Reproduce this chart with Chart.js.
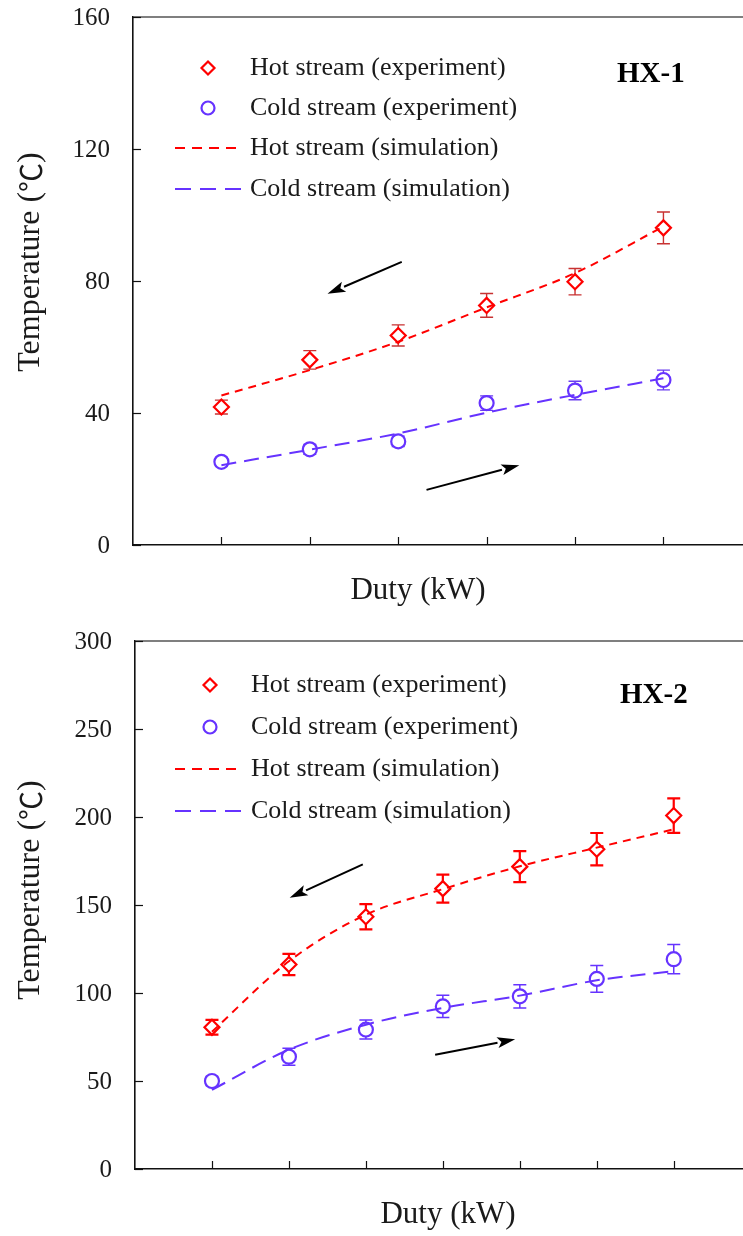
<!DOCTYPE html>
<html><head><meta charset="utf-8">
<script src="https://cdn.jsdelivr.net/npm/chart.js@4.4.1/dist/chart.umd.min.js"></script>
<style>
html,body{margin:0;padding:0;background:#fff;}
#wrap{position:relative;width:743px;height:1236px;overflow:hidden;}
.box{position:absolute;left:0;width:743px;height:618px;}
</style></head><body>
<div id="wrap">
<div class="box" style="top:0"><canvas id="c1" width="743" height="618"></canvas></div>
<div class="box" style="top:618px"><canvas id="c2" width="743" height="618"></canvas></div>
</div>
<script>
// ---------- HX-1 data ----------
const hx1Duty      = [1, 2, 3, 4, 5, 6];
const hx1HotExp    = [41.8, 56.1, 63.5, 72.6, 79.8, 96.1];
const hx1HotErr    = [2.1, 2.8, 3.2, 3.6, 4.0, 4.8];
const hx1ColdExp   = [25.2, 29.0, 31.4, 43.0, 46.8, 50.0];
const hx1ColdErr   = [1.3, 1.5, 1.6, 2.2, 2.8, 3.0];
const hx1HotSim    = [45.3, 53.0, 61.6, 72.0, 82.4, 96.5];
const hx1ColdSim   = [24.2, 28.9, 33.8, 40.1, 45.5, 50.5];
const hx1YTicks    = [0, 40, 80, 120, 160];
const hx1HotArrow  = [[3.04, 85.8], [2.2, 76.1]];
const hx1ColdArrow = [[3.32, 16.7], [4.37, 24.2]];

// ---------- HX-2 data ----------
const hx2Duty      = [1, 2, 3, 4, 5, 6, 7];
const hx2HotExp    = [80.5, 116.2, 143.3, 159.3, 171.8, 181.7, 200.8];
const hx2HotErr    = [4.2, 6.0, 7.2, 8.0, 8.8, 9.2, 9.8];
const hx2ColdExp   = [50.0, 63.8, 79.2, 92.4, 98.1, 108.0, 119.2];
const hx2ColdErr   = [2.5, 4.8, 5.4, 6.3, 6.6, 7.6, 8.3];
const hx2HotSim    = [78.0, 118.0, 144.5, 159.0, 172.0, 182.6, 193.0];
const hx2ColdSim   = [45.0, 67.8, 82.0, 91.5, 98.5, 107.2, 112.4];
const hx2YTicks    = [0, 50, 100, 150, 200, 250, 300];
const hx2HotArrow  = [[2.96, 173.1], [2.01, 154.1]];
const hx2ColdArrow = [[3.9, 64.9], [4.94, 73.7]];

const legendLabels = ['Hot stream (experiment)', 'Cold stream (experiment)', 'Hot stream (simulation)', 'Cold stream (simulation)'];

const RED = '#ff0000';
const PURPLE = '#6633ff';
const SERIF = "'Liberation Serif', 'Times New Roman', serif";
const CJK = "'Noto Sans CJK SC', sans-serif";
const TXT = '#1a1a1a';

function pts(xs, ys) { return xs.map((x, i) => ({x: x, y: ys[i]})); }

function drawArrow(ctx, x1, y1, x2, y2) {
  const ang = Math.atan2(y2 - y1, x2 - x1);
  const hl = 18, hw = 5.5;
  const bx = x2 - hl * Math.cos(ang), by = y2 - hl * Math.sin(ang);
  ctx.save();
  ctx.strokeStyle = '#000'; ctx.fillStyle = '#000'; ctx.lineWidth = 2;
  ctx.beginPath(); ctx.moveTo(x1, y1); ctx.lineTo(bx, by); ctx.stroke();
  ctx.beginPath();
  ctx.moveTo(x2, y2);
  ctx.lineTo(bx + hw * Math.sin(ang), by - hw * Math.cos(ang));
  ctx.lineTo(bx + 4 * Math.cos(ang), by + 4 * Math.sin(ang));
  ctx.lineTo(bx - hw * Math.sin(ang), by + hw * Math.cos(ang));
  ctx.closePath(); ctx.fill();
  ctx.restore();
}

function drawYTitle(ctx, cx, cy) {
  const p1 = 'Temperature (', p2 = '\u2103', p3 = ')';
  const fs = 32;
  ctx.save();
  ctx.translate(cx, cy);
  ctx.rotate(-Math.PI / 2);
  ctx.textBaseline = 'middle'; ctx.textAlign = 'left'; ctx.fillStyle = TXT;
  ctx.font = fs + 'px ' + SERIF; const w1 = ctx.measureText(p1).width; const w3 = ctx.measureText(p3).width;
  ctx.font = (fs - 3) + 'px ' + CJK; const w2 = ctx.measureText(p2).width;
  const total = w1 + w2 + w3;
  let xx = -total / 2;
  ctx.font = fs + 'px ' + SERIF; ctx.fillText(p1, xx, 0); xx += w1;
  ctx.font = (fs - 3) + 'px ' + CJK; ctx.fillText(p2, xx, 0); xx += w2;
  ctx.font = fs + 'px ' + SERIF; ctx.fillText(p3, xx, 0);
  ctx.restore();
}

function makeChart(id, o) {
  const annot = {
    id: 'annot',
    beforeDatasetsDraw(chart) {
      const ctx = chart.ctx, x = chart.scales.x, y = chart.scales.y;
      o.errors.forEach(e => {
        ctx.save();
        ctx.strokeStyle = e.color; ctx.lineWidth = e.width;
        o.duty.forEach((xv, i) => {
          const px = x.getPixelForValue(xv);
          const t = y.getPixelForValue(e.ys[i] + e.err[i]);
          const b = y.getPixelForValue(e.ys[i] - e.err[i]);
          const cap = 6.5;
          ctx.beginPath();
          ctx.moveTo(px, t); ctx.lineTo(px, b);
          ctx.moveTo(px - cap, t); ctx.lineTo(px + cap, t);
          ctx.moveTo(px - cap, b); ctx.lineTo(px + cap, b);
          ctx.stroke();
        });
        ctx.restore();
      });
    },
    afterDraw(chart) {
      const ctx = chart.ctx, x = chart.scales.x, y = chart.scales.y, a = chart.chartArea;
      ctx.save();
      // top border
      ctx.strokeStyle = '#555'; ctx.lineWidth = 1.5;
      ctx.beginPath(); ctx.moveTo(a.left, a.top); ctx.lineTo(a.right, a.top); ctx.stroke();
      // inner tick marks
      ctx.strokeStyle = '#111'; ctx.lineWidth = 1.2;
      for (let v = 1; v <= Math.floor(o.xMax); v++) {
        const px = Math.round(x.getPixelForValue(v)) + 0.5;
        ctx.beginPath(); ctx.moveTo(px, a.bottom); ctx.lineTo(px, a.bottom - 8); ctx.stroke();
      }
      ctx.fillStyle = TXT; ctx.font = '25px ' + SERIF; ctx.textAlign = 'right'; ctx.textBaseline = 'middle';
      o.yTicks.forEach(v => {
        const py = Math.round(y.getPixelForValue(v)) + 0.5;
        ctx.beginPath(); ctx.moveTo(a.left, py); ctx.lineTo(a.left + 8, py); ctx.stroke();
        ctx.fillText(String(v), a.left - 23, py + 1);
      });
      // arrows
      [o.hotArrow, o.coldArrow].forEach(ar => {
        drawArrow(ctx, x.getPixelForValue(ar[0][0]), y.getPixelForValue(ar[0][1]),
                       x.getPixelForValue(ar[1][0]), y.getPixelForValue(ar[1][1]));
      });
      // legend
      const L = o.legend;
      ctx.fillStyle = TXT; ctx.font = '26px ' + SERIF; ctx.textBaseline = 'middle'; ctx.textAlign = 'left';
      legendLabels.forEach((t, i) => ctx.fillText(t, L.textX, a.top + L.rows[i]));
      ctx.lineWidth = 2.2;
      let ry = a.top + L.rows[0];
      ctx.strokeStyle = RED; ctx.fillStyle = '#fff';
      ctx.beginPath(); ctx.moveTo(L.markX, ry - 6.5); ctx.lineTo(L.markX + 6.5, ry); ctx.lineTo(L.markX, ry + 6.5); ctx.lineTo(L.markX - 6.5, ry); ctx.closePath(); ctx.fill(); ctx.stroke();
      ry = a.top + L.rows[1];
      ctx.strokeStyle = PURPLE;
      ctx.beginPath(); ctx.arc(L.markX, ry, 6.5, 0, Math.PI * 2); ctx.fill(); ctx.stroke();
      ctx.lineWidth = 2;
      ry = a.top + L.rows[2];
      ctx.strokeStyle = RED; ctx.setLineDash([10, 7]);
      ctx.beginPath(); ctx.moveTo(175, ry); ctx.lineTo(238, ry); ctx.stroke();
      ry = a.top + L.rows[3];
      ctx.strokeStyle = PURPLE; ctx.setLineDash([16, 9]);
      ctx.beginPath(); ctx.moveTo(175, ry); ctx.lineTo(243, ry); ctx.stroke();
      ctx.setLineDash([]);
      // HX label
      ctx.fillStyle = '#000'; ctx.font = 'bold 29px ' + SERIF; ctx.textAlign = 'left';
      ctx.fillText(o.hxLabel, o.hxPos[0], a.top + o.hxPos[1]);
      // axis titles
      ctx.fillStyle = TXT; ctx.font = '31px ' + SERIF; ctx.textAlign = 'center';
      ctx.fillText('Duty (kW)', a.left + o.xTitle[0], a.bottom + o.xTitle[1]);
      drawYTitle(ctx, 31, (a.top + a.bottom) / 2 + o.yTitleShift);
      ctx.restore();
    }
  };

  return new Chart(document.getElementById(id), {
    type: 'line',
    data: {
      datasets: [
        { label: legendLabels[2], data: pts(o.duty, o.hotSim), borderColor: RED, borderWidth: 2, borderDash: [8, 6], pointRadius: 0, cubicInterpolationMode: 'monotone', fill: false },
        { label: legendLabels[3], data: pts(o.duty, o.coldSim), borderColor: PURPLE, borderWidth: 2, borderDash: [15, 8], pointRadius: 0, cubicInterpolationMode: 'monotone', fill: false },
        { label: legendLabels[0], data: pts(o.duty, o.hotExp), showLine: false, pointStyle: 'rectRot', pointRadius: 7.5, pointBorderWidth: 2.2, pointBorderColor: RED, pointBackgroundColor: '#fff', borderColor: RED },
        { label: legendLabels[1], data: pts(o.duty, o.coldExp), showLine: false, pointStyle: 'circle', pointRadius: 7, pointBorderWidth: 2.2, pointBorderColor: PURPLE, pointBackgroundColor: '#fff', borderColor: PURPLE }
      ]
    },
    options: {
      responsive: false,
      animation: false,
      layout: { autoPadding: false, padding: { top: o.top, right: 0, left: 0, bottom: 0 } },
      plugins: { legend: { display: false }, tooltip: { enabled: false } },
      scales: {
        x: {
          type: 'linear', min: 0, max: o.xMax,
          ticks: { display: false, stepSize: 1 },
          grid: { drawOnChartArea: false, drawTicks: false },
          border: { display: true, color: '#111', width: 1.6 },
          afterFit(s) { s.height = o.xH; }
        },
        y: {
          min: 0, max: o.yTicks[o.yTicks.length - 1],
          afterBuildTicks(s) { s.ticks = o.yTicks.map(v => ({ value: v })); },
          ticks: { display: false },
          grid: { drawOnChartArea: false, drawTicks: false },
          border: { display: true, color: '#111', width: 1.6 },
          afterFit(s) { s.width = o.yW; }
        }
      }
    },
    plugins: [annot]
  });
}

makeChart('c1', {
  duty: hx1Duty, hotExp: hx1HotExp, coldExp: hx1ColdExp, hotSim: hx1HotSim, coldSim: hx1ColdSim,
  yTicks: hx1YTicks, xMax: 6.9, top: 17, xH: 73, yW: 133,
  hotArrow: hx1HotArrow, coldArrow: hx1ColdArrow,
  errors: [
    { ys: hx1HotExp, err: hx1HotErr, color: '#c83232', width: 1.4 },
    { ys: hx1ColdExp, err: hx1ColdErr, color: '#6a3df0', width: 1.4 }
  ],
  legend: { markX: 208, textX: 250, rows: [51, 91, 131, 172] },
  hxLabel: 'HX-1', hxPos: [617, 58], xTitle: [285, 46], yTitleShift: -19
});

makeChart('c2', {
  duty: hx2Duty, hotExp: hx2HotExp, coldExp: hx2ColdExp, hotSim: hx2HotSim, coldSim: hx2ColdSim,
  yTicks: hx2YTicks, xMax: 7.9, top: 23, xH: 67, yW: 135,
  hotArrow: hx2HotArrow, coldArrow: hx2ColdArrow,
  errors: [
    { ys: hx2HotExp, err: hx2HotErr, color: RED, width: 2.2 },
    { ys: hx2ColdExp, err: hx2ColdErr, color: PURPLE, width: 1.5 }
  ],
  legend: { markX: 210, textX: 251, rows: [44, 86, 128, 170] },
  hxLabel: 'HX-2', hxPos: [620, 55], xTitle: [313, 46], yTitleShift: -15
});
</script>
</body></html>
